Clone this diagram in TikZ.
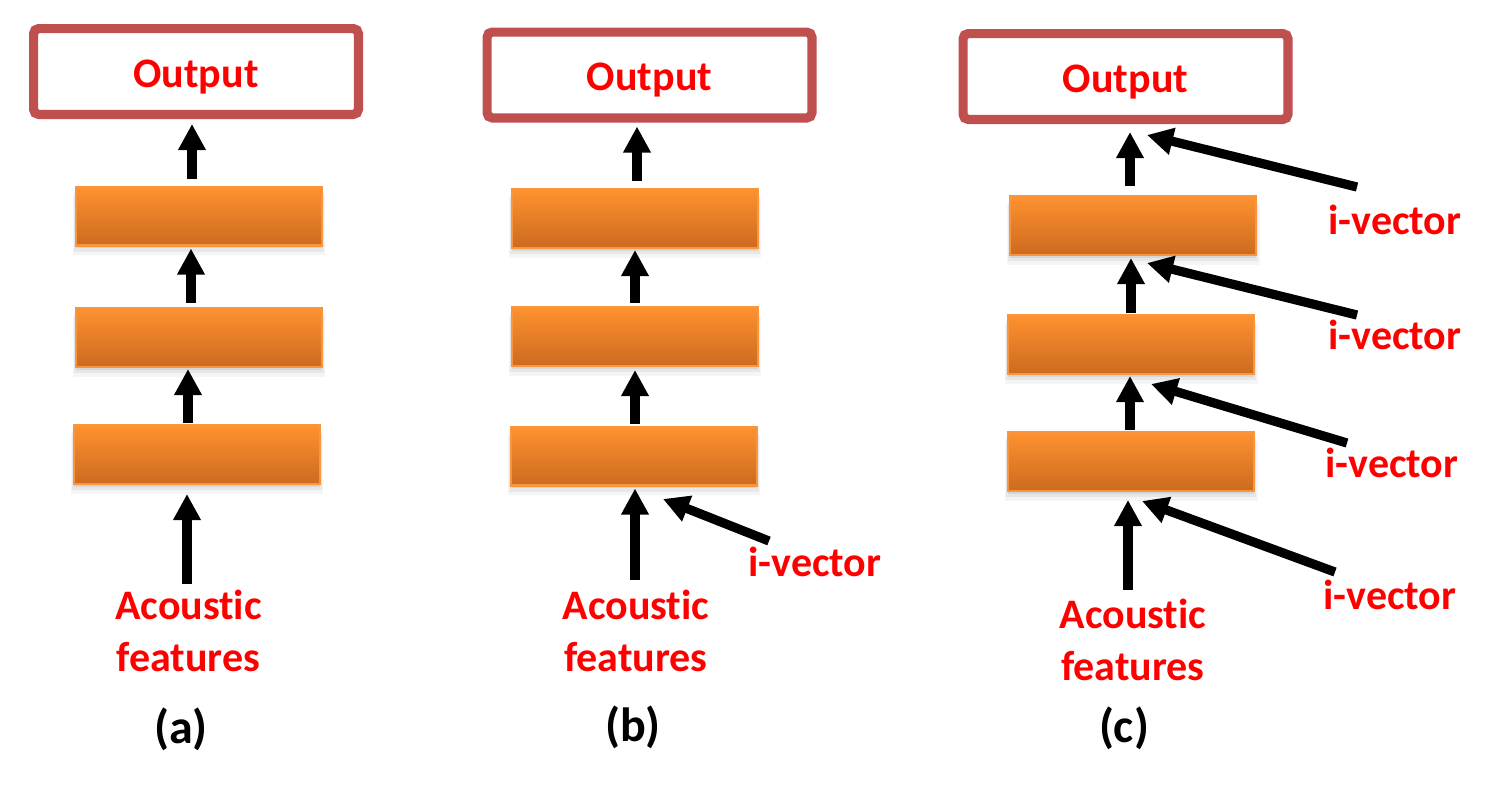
\documentclass[tikz,border=0pt]{standalone}
\usepackage{fontspec}
\setmainfont[Ligatures=NoCommon]{Carlito}
\usetikzlibrary{arrows.meta,shadows}
\definecolor{outred}{HTML}{C0504D}
\definecolor{txtred}{HTML}{FF0000}
\definecolor{orgtop}{HTML}{FF9230}
\definecolor{orgmid}{HTML}{F3882A}
\definecolor{orgbot}{HTML}{CC6A1F}
\definecolor{orgline}{HTML}{F7963F}
\newcommand{\acfeat}{Acoust\kern0pt ic\\features}
\begin{document}
\begin{tikzpicture}[x=0.5pt,y=-0.5pt,
  outbox/.style={draw=outred, line width=4.6pt, rounded corners=2.5pt, fill=white,
    minimum width=162.4pt, minimum height=42.9pt, inner sep=0pt,
    text=txtred, font=\bfseries\fontsize{21}{26}\selectfont,
    text height=15.5pt, text depth=0pt},
  layer/.style={draw=orgline, line width=1.2pt, top color=orgtop, middle color=orgmid,
    bottom color=orgbot, minimum width=122.8pt, minimum height=29.3pt, inner sep=0pt,
    general shadow={fill=black, opacity=0.07, shadow yshift=-1.5pt, shadow xshift=0pt, shadow scale=1.0},
    general shadow={fill=black, opacity=0.06, shadow yshift=-3pt, shadow xshift=0pt, shadow scale=1.015},
    general shadow={fill=black, opacity=0.04, shadow yshift=-4.5pt, shadow xshift=0pt, shadow scale=1.03}},
  lbl/.style={text=txtred, inner sep=0pt, align=center, font=\bfseries\fontsize{21}{26}\selectfont},
  tag/.style={text=black, inner sep=0pt, font=\bfseries\fontsize{24}{28}\selectfont},
  arr/.style={line width=4.6pt, -{Triangle[width=13pt,length=13pt]}}
]
\useasboundingbox (0,0) rectangle (1499,789);

% ---------- (a) ----------
\node[outbox] (outA) at (196,71.5) {Output};
\node[layer] (a1) at (199,216) {};
\node[layer] (a2) at (199,337.5) {};
\node[layer] (a3) at (197,454.5) {};
\node[lbl, anchor=north] (acA) at (188.5,590) {\acfeat};
\node[tag] (capA) at (181,729) {(a)};
\coordinate (xA1) at (192,0);
\coordinate (xA2) at (191,0);
\coordinate (xA3) at (188,0);
\coordinate (xA4) at (187,0);
\draw[arr, shorten <=3.5pt, shorten >=2.5pt] (a1.north -| xA1) -- (outA.south -| xA1);
\draw[arr, shorten <=2pt, shorten >=1pt] (a2.north -| xA2) -- (a1.south -| xA2);
\draw[arr, shorten <=0.5pt, shorten >=0.5pt] (a3.north -| xA3) -- (a2.south -| xA3);
\draw[arr, shorten <=3pt, shorten >=4.5pt] (acA.north -| xA4) -- (a3.south -| xA4);

% ---------- (b) ----------
\node[outbox] (outB) at (649.5,75) {Output};
\node[layer] (b1) at (635,218.5) {};
\node[layer] (b2) at (635,336.5) {};
\node[layer] (b3) at (634,456) {};
\node[lbl, anchor=north] (acB) at (636,590) {\acfeat};
\node[lbl, anchor=base] (ivB) at (815,576) {i-vector};
\node[tag] (capB) at (633,727.5) {(b)};
\coordinate (xB1) at (637,0);
\coordinate (xB2) at (635,0);
\coordinate (xB3) at (635,0);
\coordinate (xB4) at (635,0);
\draw[arr, shorten <=3.5pt, shorten >=2pt] (b1.north -| xB1) -- (outB.south -| xB1);
\draw[arr, shorten <=1.5pt, shorten >=0.5pt] (b2.north -| xB2) -- (b1.south -| xB2);
\draw[arr, shorten <=1pt, shorten >=1.5pt] (b3.north -| xB3) -- (b2.south -| xB3);
\draw[arr, shorten <=5pt, shorten >=1pt] (acB.north -| xB4) -- (b3.south -| xB4);
\coordinate (ivBtail) at (769,541);
\coordinate (ivBtip) at (663,499);
\draw[arr] (ivBtail) -- (ivBtip);

% ---------- (c) ----------
\node[outbox] (outC) at (1125.5,76.5) {Output};
\node[layer] (c1) at (1133,225.5) {};
\node[layer] (c2) at (1131,344.5) {};
\node[layer] (c3) at (1131,461.5) {};
\node[lbl, anchor=north] (acC) at (1133,599) {\acfeat};
\node[lbl, anchor=base] (ivC1) at (1395,234) {i-vector};
\node[lbl, anchor=base] (ivC2) at (1395,349) {i-vector};
\node[lbl, anchor=base] (ivC3) at (1392,477) {i-vector};
\node[lbl, anchor=base] (ivC4) at (1390,609) {i-vector};
\node[tag] (capC) at (1124,728) {(c)};
\coordinate (xC1) at (1130,0);
\coordinate (xC2) at (1131,0);
\coordinate (xC3) at (1130,0);
\coordinate (xC4) at (1128,0);
\draw[arr, shorten <=4.5pt, shorten >=4pt] (c1.north -| xC1) -- (outC.south -| xC1);
\draw[arr, shorten <=0.5pt, shorten >=1pt] (c2.north -| xC2) -- (c1.south -| xC2);
\draw[arr, shorten <=0.5pt, shorten >=0.5pt] (c3.north -| xC3) -- (c2.south -| xC3);
\draw[arr, shorten <=4.5pt, shorten >=4pt] (acC.north -| xC4) -- (c3.south -| xC4);
\coordinate (ivC1tail) at (1357,187);
\coordinate (ivC1tip) at (1147,135);
\coordinate (ivC2tail) at (1357,315);
\coordinate (ivC2tip) at (1147,263);
\coordinate (ivC3tail) at (1347,443);
\coordinate (ivC3tip) at (1151,384);
\coordinate (ivC4tail) at (1335,572);
\coordinate (ivC4tip) at (1142,501);
\draw[arr] (ivC1tail) -- (ivC1tip);
\draw[arr] (ivC2tail) -- (ivC2tip);
\draw[arr] (ivC3tail) -- (ivC3tip);
\draw[arr] (ivC4tail) -- (ivC4tip);
\end{tikzpicture}
\end{document}
